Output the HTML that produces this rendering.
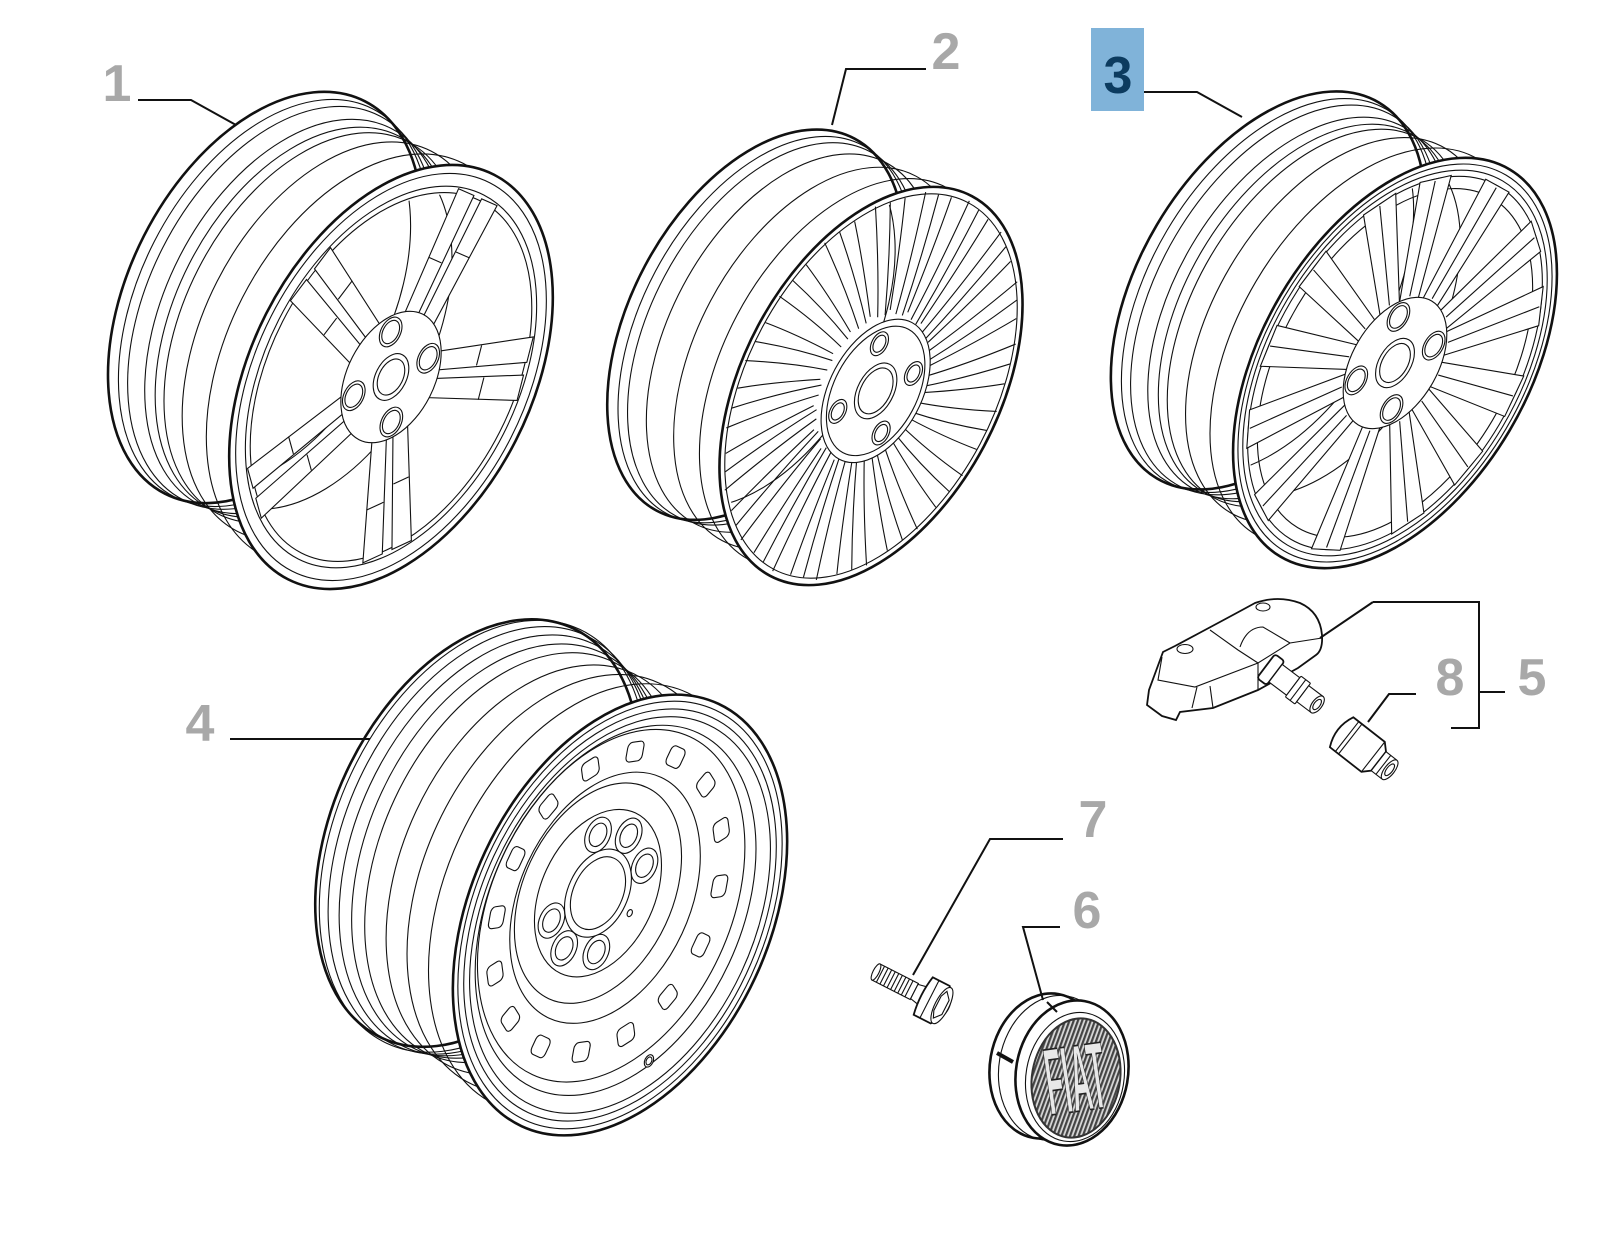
<!DOCTYPE html>
<html><head><meta charset="utf-8">
<style>
html,body{margin:0;padding:0;background:#fff;}
svg{display:block}
svg *{vector-effect:non-scaling-stroke}
.t{stroke:#111;stroke-width:2.6;fill:#fff}
.n{stroke:#111;stroke-width:1.1;fill:none}
.nw{stroke:#111;stroke-width:1.1;fill:#fff}
.m{stroke:#111;stroke-width:1.8;fill:#fff}
.lb{font-family:"Liberation Sans",Arial,sans-serif;font-weight:bold;font-size:52px;fill:#a8a8a8;text-anchor:middle}
.ld{stroke:#111;stroke-width:2;fill:none}
</style></head><body>
<svg width="1600" height="1250" viewBox="0 0 1600 1250" xmlns="http://www.w3.org/2000/svg">
<defs>
 <clipPath id="c86"><circle r="86"/></clipPath>
 <clipPath id="c90"><circle r="90"/></clipPath>
 <clipPath id="c95"><circle r="95"/></clipPath>
 <pattern id="st" width="4" height="4" patternUnits="userSpaceOnUse" patternTransform="rotate(10)">
  <rect width="4" height="4" fill="#d8d8d8"/><rect width="2.2" height="4" fill="#444"/>
 </pattern>
</defs>
<rect width="1600" height="1250" fill="#fff"/>

<!-- ================= WHEEL 1 ================= -->
<g transform="translate(391,377) rotate(27) scale(1.40,2.27)">
 <circle class="t" cx="-106" cy="-6" r="97"/>
 <g class="n">
  <circle cx="-98.6" cy="-5.6" r="96"/>
  <circle cx="-92.2" cy="-5.2" r="95"/>
  <circle cx="-80.6" cy="-4.6" r="93"/>
  <circle cx="-73.1" cy="-4.1" r="92"/>
  <circle cx="-65.7" cy="-3.7" r="92"/>
  <circle cx="-47.7" cy="-2.7" r="94"/>
  <circle cx="-23.3" cy="-1.3" r="97"/>
 </g>
 <circle class="t" r="100"/>
 <circle class="n" r="96"/>
 <circle class="n" r="90"/>
 <circle class="n" r="87"/>
 <g clip-path="url(#c86)" class="n">
  <circle cx="-106" cy="-6" r="90"/>
  <circle cx="-66" cy="-4" r="86"/>
 </g>
 <g transform="rotate(-164)"><path class="nw" d="M28,-11 L88,-15 L88,-3 L28,-2 Z"/><path class="nw" d="M28,2 L88,3 L88,15 L28,11 Z"/><path class="n" d="M55,-12.5 L55,-3 M62,3 L62,13.5"/></g>
 <g transform="rotate(-92)"><path class="nw" d="M28,-11 L88,-15 L88,-3 L28,-2 Z"/><path class="nw" d="M28,2 L88,3 L88,15 L28,11 Z"/><path class="n" d="M55,-12.5 L55,-3 M62,3 L62,13.5"/></g>
 <g transform="rotate(-20)"><path class="nw" d="M28,-11 L88,-15 L88,-3 L28,-2 Z"/><path class="nw" d="M28,2 L88,3 L88,15 L28,11 Z"/><path class="n" d="M55,-12.5 L55,-3 M62,3 L62,13.5"/></g>
 <g transform="rotate(52)"><path class="nw" d="M28,-11 L88,-15 L88,-3 L28,-2 Z"/><path class="nw" d="M28,2 L88,3 L88,15 L28,11 Z"/><path class="n" d="M55,-12.5 L55,-3 M62,3 L62,13.5"/></g>
 <g transform="rotate(124)"><path class="nw" d="M28,-11 L88,-15 L88,-3 L28,-2 Z"/><path class="nw" d="M28,2 L88,3 L88,15 L28,11 Z"/><path class="n" d="M55,-12.5 L55,-3 M62,3 L62,13.5"/></g>
 <circle class="nw" r="31"/>
 <circle class="nw" r="11"/><circle class="n" r="8.5"/>
 <circle class="nw" cx="-14.8" cy="-17.6" r="7"/><circle class="n" cx="-14.8" cy="-17.6" r="5.5"/>
 <circle class="nw" cx="17.6" cy="-14.8" r="7"/><circle class="n" cx="17.6" cy="-14.8" r="5.5"/>
 <circle class="nw" cx="14.8" cy="17.6" r="7"/><circle class="n" cx="14.8" cy="17.6" r="5.5"/>
 <circle class="nw" cx="-17.6" cy="14.8" r="7"/><circle class="n" cx="-17.6" cy="14.8" r="5.5"/>
</g>

<!-- ================= WHEEL 2 ================= -->
<g transform="translate(871,386) rotate(28) scale(1.28,2.15)">
 <circle class="t" cx="-102" cy="0" r="98"/>
 <g class="n">
  <circle cx="-93.8" cy="0" r="97"/>
  <circle cx="-86.7" cy="0" r="96"/>
  <circle cx="-71.4" cy="0" r="95"/>
  <circle cx="-45.9" cy="0" r="96"/>
  <circle cx="-20.4" cy="0" r="98"/>
 </g>
 <circle class="t" r="100"/>
 <circle class="n" r="96.5"/>
 <g clip-path="url(#c95)" class="n">
  <circle cx="-102" cy="0" r="92"/>
 </g>
 <g class="n">
  <path transform="rotate(0)" d="M36,-3 Q64,-8 96,-17 M36,2 Q66,-1 96,-7 M38,5 Q70,5 96,3"/>
  <path transform="rotate(20)" d="M36,-3 Q64,-8 96,-17 M36,2 Q66,-1 96,-7 M38,5 Q70,5 96,3"/>
  <path transform="rotate(40)" d="M36,-3 Q64,-8 96,-17 M36,2 Q66,-1 96,-7 M38,5 Q70,5 96,3"/>
  <path transform="rotate(60)" d="M36,-3 Q64,-8 96,-17 M36,2 Q66,-1 96,-7 M38,5 Q70,5 96,3"/>
  <path transform="rotate(80)" d="M36,-3 Q64,-8 96,-17 M36,2 Q66,-1 96,-7 M38,5 Q70,5 96,3"/>
  <path transform="rotate(100)" d="M36,-3 Q64,-8 96,-17 M36,2 Q66,-1 96,-7 M38,5 Q70,5 96,3"/>
  <path transform="rotate(120)" d="M36,-3 Q64,-8 96,-17 M36,2 Q66,-1 96,-7 M38,5 Q70,5 96,3"/>
  <path transform="rotate(140)" d="M36,-3 Q64,-8 96,-17 M36,2 Q66,-1 96,-7 M38,5 Q70,5 96,3"/>
  <path transform="rotate(160)" d="M36,-3 Q64,-8 96,-17 M36,2 Q66,-1 96,-7 M38,5 Q70,5 96,3"/>
  <path transform="rotate(180)" d="M36,-3 Q64,-8 96,-17 M36,2 Q66,-1 96,-7 M38,5 Q70,5 96,3"/>
  <path transform="rotate(200)" d="M36,-3 Q64,-8 96,-17 M36,2 Q66,-1 96,-7 M38,5 Q70,5 96,3"/>
  <path transform="rotate(220)" d="M36,-3 Q64,-8 96,-17 M36,2 Q66,-1 96,-7 M38,5 Q70,5 96,3"/>
  <path transform="rotate(240)" d="M36,-3 Q64,-8 96,-17 M36,2 Q66,-1 96,-7 M38,5 Q70,5 96,3"/>
  <path transform="rotate(260)" d="M36,-3 Q64,-8 96,-17 M36,2 Q66,-1 96,-7 M38,5 Q70,5 96,3"/>
  <path transform="rotate(280)" d="M36,-3 Q64,-8 96,-17 M36,2 Q66,-1 96,-7 M38,5 Q70,5 96,3"/>
  <path transform="rotate(300)" d="M36,-3 Q64,-8 96,-17 M36,2 Q66,-1 96,-7 M38,5 Q70,5 96,3"/>
  <path transform="rotate(320)" d="M36,-3 Q64,-8 96,-17 M36,2 Q66,-1 96,-7 M38,5 Q70,5 96,3"/>
  <path transform="rotate(340)" d="M36,-3 Q64,-8 96,-17 M36,2 Q66,-1 96,-7 M38,5 Q70,5 96,3"/>
 </g>
 <g transform="translate(5,1)">
  <circle class="nw" r="36"/>
  <circle class="n" r="32.5"/>
  <circle class="nw" r="14"/><circle class="n" r="11.5"/>
 </g>
 <circle class="nw" cx="-9.7" cy="-19.2" r="6"/><circle class="n" cx="-9.7" cy="-19.2" r="4.3"/>
 <circle class="nw" cx="24.7" cy="-14.4" r="6"/><circle class="n" cx="24.7" cy="-14.4" r="4.3"/>
 <circle class="nw" cx="24.2" cy="17.1" r="6"/><circle class="n" cx="24.2" cy="17.1" r="4.3"/>
 <circle class="nw" cx="-13.6" cy="17.7" r="6"/><circle class="n" cx="-13.6" cy="17.7" r="4.3"/>
</g>

<!-- ================= WHEEL 3 ================= -->
<g transform="translate(1395,363) rotate(30.6) scale(1.33,2.25)">
 <circle class="t" cx="-110" cy="1" r="97"/>
 <g class="n">
  <circle cx="-102.3" cy="0.9" r="96"/>
  <circle cx="-95.7" cy="0.9" r="95"/>
  <circle cx="-83.6" cy="0.8" r="93"/>
  <circle cx="-75.9" cy="0.7" r="92"/>
  <circle cx="-68.2" cy="0.6" r="92"/>
  <circle cx="-49.5" cy="0.5" r="94"/>
  <circle cx="-24.2" cy="0.2" r="97"/>
 </g>
 <circle class="t" r="100"/>
 <circle class="n" r="97"/>
 <circle class="n" r="94"/>
 <circle class="n" r="91"/>
 <g clip-path="url(#c90)" class="n">
  <circle cx="-110" cy="1" r="90"/>
  <circle cx="-66" cy="0" r="87"/>
 </g>
 <circle class="n" r="85"/>
 <g transform="rotate(-169)"><path class="nw" d="M31,-6 L91,-10 L91,10 L31,6 Z"/><path class="n" d="M33,0 L90,0"/></g>
 <g transform="rotate(-141)"><path class="nw" d="M31,-6 L91,-10 L91,10 L31,6 Z"/><path class="n" d="M33,0 L90,0"/></g>
 <g transform="rotate(-119)"><path class="nw" d="M31,-6 L91,-10 L91,10 L31,6 Z"/><path class="n" d="M33,0 L90,0"/></g>
 <g transform="rotate(-91)"><path class="nw" d="M31,-6 L91,-10 L91,10 L31,6 Z"/><path class="n" d="M33,0 L90,0"/></g>
 <g transform="rotate(-62)"><path class="nw" d="M31,-6 L91,-10 L91,10 L31,6 Z"/><path class="n" d="M33,0 L90,0"/></g>
 <g transform="rotate(-37)"><path class="nw" d="M31,-6 L91,-10 L91,10 L31,6 Z"/><path class="n" d="M33,0 L90,0"/></g>
 <g transform="rotate(-9)"><path class="nw" d="M31,-6 L91,-10 L91,10 L31,6 Z"/><path class="n" d="M33,0 L90,0"/></g>
 <g transform="rotate(15)"><path class="nw" d="M31,-6 L91,-10 L91,10 L31,6 Z"/><path class="n" d="M33,0 L90,0"/></g>
 <g transform="rotate(40)"><path class="nw" d="M31,-6 L91,-10 L91,10 L31,6 Z"/><path class="n" d="M33,0 L90,0"/></g>
 <g transform="rotate(73)"><path class="nw" d="M31,-6 L91,-10 L91,10 L31,6 Z"/><path class="n" d="M33,0 L90,0"/></g>
 <g transform="rotate(110)"><path class="nw" d="M31,-6 L91,-10 L91,10 L31,6 Z"/><path class="n" d="M33,0 L90,0"/></g>
 <g transform="rotate(140)"><path class="nw" d="M31,-6 L91,-10 L91,10 L31,6 Z"/><path class="n" d="M33,0 L90,0"/></g>
 <g transform="rotate(166)"><path class="nw" d="M31,-6 L91,-10 L91,10 L31,6 Z"/><path class="n" d="M33,0 L90,0"/></g>
 <circle class="nw" r="32"/>
 <circle class="nw" r="12"/><circle class="n" r="9.5"/>
 <circle class="nw" cx="-15.4" cy="-18.4" r="7"/><circle class="n" cx="-15.4" cy="-18.4" r="5.5"/>
 <circle class="nw" cx="18.4" cy="-15.4" r="7"/><circle class="n" cx="18.4" cy="-15.4" r="5.5"/>
 <circle class="nw" cx="15.4" cy="18.4" r="7"/><circle class="n" cx="15.4" cy="18.4" r="5.5"/>
 <circle class="nw" cx="-18.4" cy="15.4" r="7"/><circle class="n" cx="-18.4" cy="15.4" r="5.5"/>
</g>

<!-- ================= WHEEL 4 (steel) ================= -->
<g transform="translate(620,915) rotate(25) scale(1.49,2.33)">
 <circle class="t" cx="-110" cy="-6" r="97"/>
 <g class="n">
  <circle cx="-105.6" cy="-5.8" r="98"/>
  <circle cx="-100.1" cy="-5.5" r="97"/>
  <circle cx="-93.5" cy="-5.1" r="95.5"/>
  <circle cx="-85.8" cy="-4.7" r="94"/>
  <circle cx="-77" cy="-4.2" r="93"/>
  <circle cx="-60.5" cy="-3.3" r="93"/>
  <circle cx="-41.8" cy="-2.3" r="95"/>
  <circle cx="-22" cy="-1.2" r="97.5"/>
 </g>
 <circle class="t" r="100"/>
 <circle class="n" r="97"/>
 <circle class="n" r="93.5"/>
 <circle class="n" r="90"/>
 <circle class="n" cx="-4" cy="-1" r="84"/>
 <circle class="n" cx="-8" cy="-2" r="80"/>
 <g transform="translate(-11,-3)">
  <rect class="nw" transform="rotate(0)" x="64" y="-5" width="9" height="10" rx="2.5"/>
  <rect class="nw" transform="rotate(22.5)" x="64" y="-5" width="9" height="10" rx="2.5"/>
  <rect class="nw" transform="rotate(45)" x="64" y="-5" width="9" height="10" rx="2.5"/>
  <rect class="nw" transform="rotate(67.5)" x="64" y="-5" width="9" height="10" rx="2.5"/>
  <rect class="nw" transform="rotate(90)" x="64" y="-5" width="9" height="10" rx="2.5"/>
  <rect class="nw" transform="rotate(112.5)" x="64" y="-5" width="9" height="10" rx="2.5"/>
  <rect class="nw" transform="rotate(135)" x="64" y="-5" width="9" height="10" rx="2.5"/>
  <rect class="nw" transform="rotate(157.5)" x="64" y="-5" width="9" height="10" rx="2.5"/>
  <rect class="nw" transform="rotate(180)" x="64" y="-5" width="9" height="10" rx="2.5"/>
  <rect class="nw" transform="rotate(202.5)" x="64" y="-5" width="9" height="10" rx="2.5"/>
  <rect class="nw" transform="rotate(225)" x="64" y="-5" width="9" height="10" rx="2.5"/>
  <rect class="nw" transform="rotate(247.5)" x="64" y="-5" width="9" height="10" rx="2.5"/>
  <rect class="nw" transform="rotate(270)" x="64" y="-5" width="9" height="10" rx="2.5"/>
  <rect class="nw" transform="rotate(292.5)" x="64" y="-5" width="9" height="10" rx="2.5"/>
  <rect class="nw" transform="rotate(315)" x="64" y="-5" width="9" height="10" rx="2.5"/>
  <rect class="nw" transform="rotate(337.5)" x="64" y="-5" width="9" height="10" rx="2.5"/>
 </g>
 <circle class="n" cx="-14" cy="-4" r="57"/>
 <circle class="n" cx="-19.6" cy="-4.5" r="50"/>
 <circle class="n" cx="-19.6" cy="-4.5" r="38"/>
 <circle class="nw" cx="-36.1" cy="-27.2" r="8"/><circle class="n" cx="-36.1" cy="-27.2" r="5.3"/>
 <circle class="nw" cx="-17.2" cy="-32.4" r="8"/><circle class="n" cx="-17.2" cy="-32.4" r="5.3"/>
 <circle class="nw" cx="0.9" cy="-23.6" r="8"/><circle class="n" cx="0.9" cy="-23.6" r="5.3"/>
 <circle class="nw" cx="-3.9" cy="18.7" r="8"/><circle class="n" cx="-3.9" cy="18.7" r="5.3"/>
 <circle class="nw" cx="-24.5" cy="23.1" r="8"/><circle class="n" cx="-24.5" cy="23.1" r="5.3"/>
 <circle class="nw" cx="-40.1" cy="14.6" r="8"/><circle class="n" cx="-40.1" cy="14.6" r="5.3"/>
 <circle class="nw" cx="-19.6" cy="-4.5" r="20"/>
 <circle class="n" cx="-19.6" cy="-4.5" r="16.5"/>
 <circle class="n" cx="5.4" cy="-2.5" r="1.6"/>
 <circle class="nw" cx="59" cy="51.5" r="2.8"/><circle class="n" cx="59" cy="51.5" r="1.8"/>
</g>

<!-- ================= TPMS SENSOR (8/5) ================= -->
<g>
 <path class="m" d="M1147,705 L1149,690 L1163,652 L1175,646 Q1235,614 1255,603 Q1278,595 1300,603 Q1320,612 1322,635 Q1323,650 1316,655 L1298,668 L1258,690 L1213,708 L1180,712 L1176,720 L1162,716 Z"/>
 <path class="n" d="M1162,657 L1158,680 L1195,687 L1258,663 L1290,643 L1322,638"/>
 <path class="n" d="M1210,630 L1238,650 L1258,663"/>
 <path class="n" d="M1240,647 Q1247,627 1263,627 L1290,643"/>
 <path class="n" d="M1258,663 L1258,690 M1197,687 L1192,708 M1210,686 L1213,708 M1163,652 L1175,646"/>
 <ellipse class="n" cx="1185" cy="649" rx="8" ry="4.5"/>
 <ellipse class="n" cx="1263" cy="607" rx="7" ry="4"/>
 <g transform="translate(1266,666) rotate(37)">
  <rect class="m" x="0" y="-15" width="12" height="30" rx="3"/>
  <rect class="nw" x="12" y="-11" width="22" height="22"/>
  <rect class="nw" x="34" y="-13" width="12" height="26" rx="1"/>
  <path class="n" d="M40,-13 L40,13"/>
  <rect class="nw" x="46" y="-10" width="18" height="20"/>
  <ellipse class="nw" cx="64" cy="0" rx="5" ry="10"/>
  <ellipse class="n" cx="64" cy="0" rx="3" ry="6"/>
 </g>
 <g transform="translate(1340,731) rotate(38)">
  <path class="m" d="M2,-19 L42,-19 L49,-12 L49,12 L42,19 L2,19 Q-7,0 2,-19 Z"/>
  <path class="n" d="M9,-19 L9,19 M13,-19 L13,19 M42,-19 L42,19"/>
  <rect class="nw" x="49" y="-12" width="13" height="24"/>
  <path class="n" d="M55,-12 L55,12"/>
  <ellipse class="nw" cx="63" cy="0" rx="5" ry="12"/>
  <ellipse class="n" cx="63" cy="0" rx="3" ry="7"/>
 </g>
</g>

<!-- ================= BOLT (7) ================= -->
<g transform="translate(876,972) rotate(27)">
 <rect class="nw" x="0" y="-9" width="43" height="18"/>
 <ellipse class="nw" cx="0" cy="0" rx="3" ry="9"/>
 <path class="n" d="M5,-9 L5,9 M9,-9 L9,9 M13,-9 L13,9 M17,-9 L17,9 M21,-9 L21,9 M25,-9 L25,9 M29,-9 L29,9 M33,-9 L33,9 M37,-9 L37,9"/>
 <path class="nw" d="M43,-8 L53,-10 L53,10 L43,8 Z"/>
 <path class="m" d="M53,-21 L72,-21 Q81,-10 81,0 Q81,10 72,21 L53,21 Q49,0 53,-21 Z"/>
 <path class="n" d="M60,-21 L60,21"/>
 <ellipse class="nw" cx="74" cy="0" rx="7" ry="20"/>
 <path class="n" d="M72,-15 L78,-8 L78,8 L72,15 L69,8 L69,-8 Z"/>
</g>

<!-- ================= CAP (6) ================= -->
<g>
 <ellipse class="t" cx="1046" cy="1066" rx="56" ry="73" transform="rotate(10 1046 1066)"/>
 <ellipse class="n" cx="1055" cy="1068" rx="56" ry="73" transform="rotate(10 1055 1068)"/>
 <ellipse class="t" cx="1072" cy="1073" rx="56" ry="73" transform="rotate(10 1072 1073)"/>
 <ellipse class="n" cx="1075" cy="1077" rx="49" ry="65" transform="rotate(10 1075 1077)"/>
 <ellipse cx="1076" cy="1078" rx="44" ry="60" transform="rotate(10 1076 1078)" fill="url(#st)" stroke="#333" stroke-width="2"/>
 <text x="0" y="0" transform="translate(1080,1111) rotate(-8) scale(0.56,1.9)" font-family="Liberation Sans, Arial, sans-serif" font-size="50" font-weight="bold" fill="#e8e8e8" stroke="#222" stroke-width="1.2" text-anchor="middle">FIAT</text>
 <path d="M997,1053 L1013,1062" stroke="#111" stroke-width="4"/>
 <path d="M1047,1002 L1057,1012" stroke="#111" stroke-width="2"/>
</g>

<!-- ================= LEADERS ================= -->
<path class="ld" d="M138,100 L191,100 L236,125"/>
<path class="ld" d="M926,69 L846,69 L832,125"/>
<path class="ld" d="M1144,92 L1197,92 L1242,117"/>
<path class="ld" d="M230,739 L370,739"/>
<path class="ld" d="M1063,839 L990,839 L913,975"/>
<path class="ld" d="M1060,927 L1023,927 L1043,1000"/>
<path class="ld" d="M1373,602 L1479,602 L1479,728 L1451,728 M1373,602 L1320,638 M1479,692 L1505,692"/>
<path class="ld" d="M1416,694 L1389,694 L1368,722"/>

<!-- ================= LABELS ================= -->
<text class="lb" x="117" y="101">1</text>
<text class="lb" x="946" y="69">2</text>
<rect x="1091" y="28" width="53" height="83" fill="#80b3d9"/>
<text class="lb" x="1118" y="93" style="fill:#0c3b5f">3</text>
<text class="lb" x="200" y="741">4</text>
<text class="lb" x="1532" y="695">5</text>
<text class="lb" x="1087" y="928">6</text>
<text class="lb" x="1093" y="837">7</text>
<text class="lb" x="1450" y="695">8</text>
</svg>
</body></html>
